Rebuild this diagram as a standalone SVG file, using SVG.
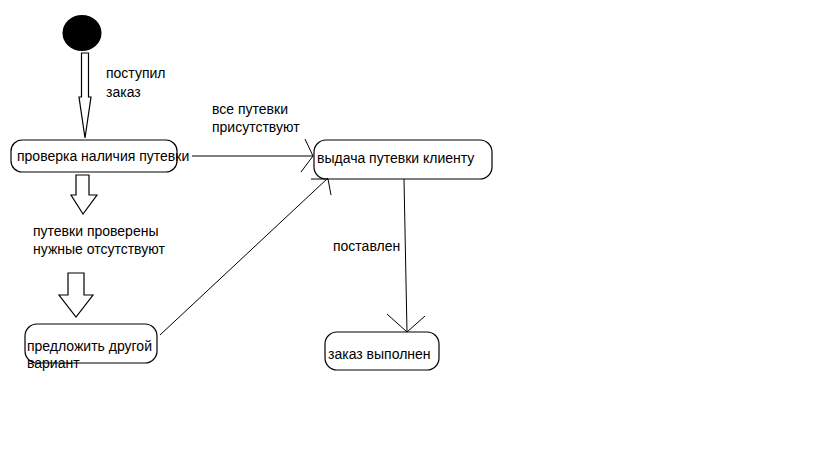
<svg xmlns="http://www.w3.org/2000/svg" width="819" height="460" viewBox="0 0 819 460">
<style>
.box{fill:none;stroke:#000;stroke-width:1.2}
.ln{fill:none;stroke:#000;stroke-width:1}
.hol{fill:#fff;stroke:#000;stroke-width:1.2}
text{font-family:"Liberation Sans",Arial,sans-serif;font-size:14px;fill:#000}
</style>
<rect width="819" height="460" fill="#fff"/>
<g id="start">
<ellipse cx="82" cy="33" rx="19.5" ry="18" fill="#000"/>
</g>
<g id="check">
<rect class="box" x="11" y="140" width="166" height="32" rx="11" ry="11"/>
<text x="17" y="161">проверка наличия путевки</text>
</g>
<g id="issue">
<rect class="box" x="314" y="140" width="178" height="39" rx="12" ry="12"/>
<text x="317" y="163">выдача путевки клиенту</text>
</g>
<g id="offer">
<rect class="box" x="25" y="324" width="132" height="39" rx="12" ry="12"/>
<text x="27" y="351">предложить другой</text>
<text x="27" y="368">вариант</text>
</g>
<g id="done">
<rect class="box" x="325" y="332" width="114" height="38" rx="12" ry="12"/>
<text x="328" y="359">заказ выполнен</text>
</g>
<g id="connectors">
<path class="hol" d="M81.5,53 H88.5 V97 H91 L85,138 L79,97 H81.5 Z"/>
<path class="hol" d="M76,175 H89 V195 H97 L83,214 L71,195 H76 Z"/>
<path class="hol" d="M68,273 H84 V295 H93 L76,317 L59,295 H68 Z"/>
<path class="ln" d="M192,156 H313 M305,139 L313,156 L301,172"/>
<path class="ln" d="M160,335 L328,178 M311,179 H328 L331,195"/>
<path class="ln" d="M404,179 L407,332 M387,314 L407,332 L425,316"/>
<text x="106" y="78">поступил</text>
<text x="106" y="97">заказ</text>
<text x="212" y="114">все путевки</text>
<text x="212" y="132">присутствуют</text>
<text x="33" y="236">путевки проверены</text>
<text x="33" y="254">нужные отсутствуют</text>
<text x="333" y="251">поставлен</text>
</g>
</svg>
